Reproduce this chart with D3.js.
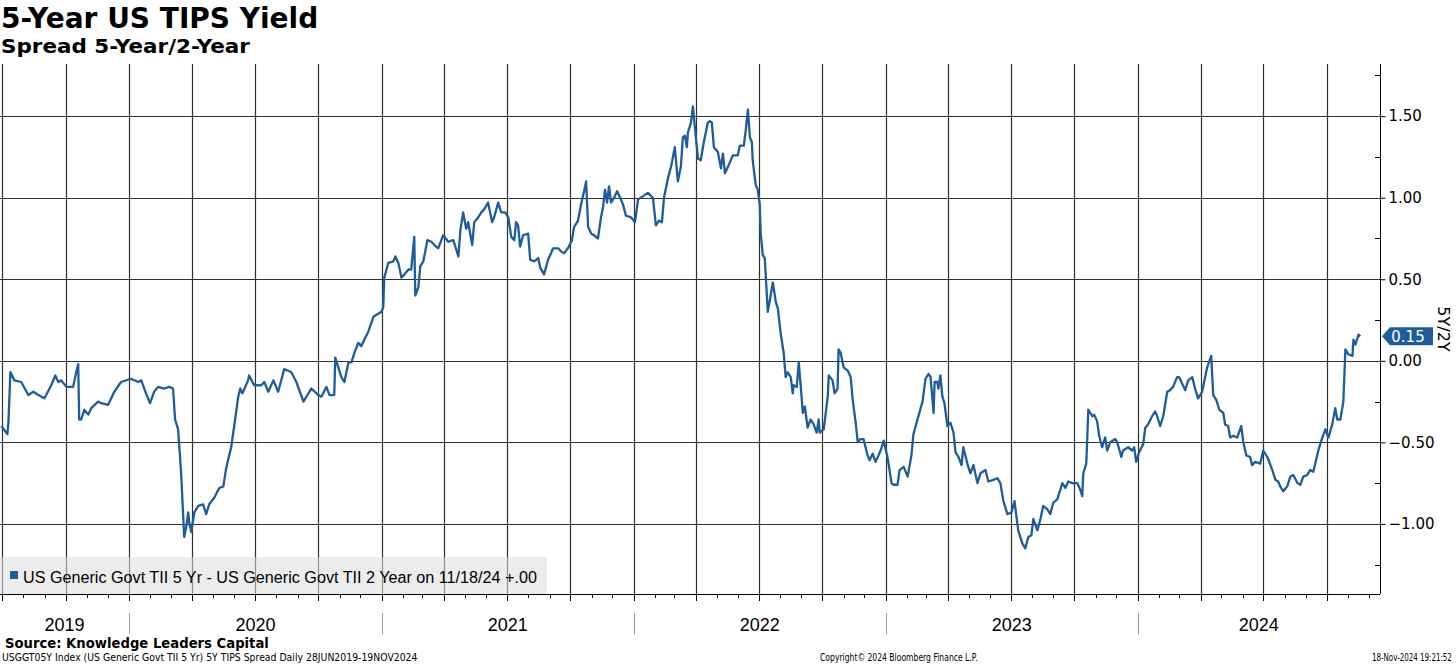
<!DOCTYPE html>
<html><head><meta charset="utf-8">
<script src="https://cdn.jsdelivr.net/npm/d3@7/dist/d3.min.js"></script>
<style>
body{margin:0;background:#fff}
svg{display:block}
</style>
</head><body>
<svg id="chart" width="1456" height="666"></svg>
<script>
// ---------- DATA ----------
const titleText = "5-Year US TIPS Yield";
const subtitleText = "Spread 5-Year/2-Year";
const legendText = "US Generic Govt TII 5 Yr - US Generic Govt TII 2 Year on 11/18/24 +.00";
const axisTitle = "5Y/2Y";
const lastValueLabel = "0.15";
const sourceText = "Source: Knowledge Leaders Capital";
const footLeft = "USGGT05Y Index (US Generic Govt TII 5 Yr) 5Y TIPS Spread  Daily 28JUN2019-19NOV2024";
const footMid = "Copyright\u00A9 2024 Bloomberg Finance L.P.";
const footRight = "18-Nov-2024 19:21:52";

const yTicks = [-1.0, -0.5, 0.0, 0.5, 1.0, 1.5];
const yMinorTicks = [-1.25, -0.75, -0.25, 0.25, 0.75, 1.25, 1.75];
const yearLabels = ["2019", "2020", "2021", "2022", "2023", "2024"];

// dates as decimal years
const dates = [
2019.493,2019.517,2019.521,2019.529,2019.545,2019.572,2019.600,2019.620,2019.640,2019.663,
2019.671,2019.691,2019.707,2019.719,2019.731,2019.751,2019.778,2019.790,2019.798,2019.802,
2019.810,2019.822,2019.838,2019.850,2019.877,2019.889,2019.917,2019.941,2019.968,2020.008,
2020.036,2020.048,2020.067,2020.083,2020.099,2020.115,2020.139,2020.159,2020.174,2020.182,
2020.194,2020.206,2020.218,2020.226,2020.234,2020.238,2020.246,2020.258,2020.274,2020.293,
2020.305,2020.317,2020.337,2020.357,2020.373,2020.384,2020.404,2020.416,2020.432,2020.440,
2020.448,2020.471,2020.475,2020.495,2020.523,2020.535,2020.551,2020.571,2020.590,2020.614,
2020.642,2020.662,2020.690,2020.721,2020.749,2020.761,2020.781,2020.793,2020.812,2020.816,
2020.828,2020.840,2020.852,2020.868,2020.880,2020.892,2020.907,2020.919,2020.947,2020.967,
2020.987,2020.999,2021.006,2021.010,2021.026,2021.046,2021.054,2021.066,2021.078,2021.090,
2021.106,2021.117,2021.129,2021.133,2021.145,2021.153,2021.165,2021.181,2021.197,2021.209,
2021.224,2021.244,2021.264,2021.284,2021.304,2021.312,2021.323,2021.335,2021.343,2021.359,
2021.367,2021.383,2021.395,2021.407,2021.422,2021.438,2021.446,2021.462,2021.474,2021.490,
2021.502,2021.514,2021.526,2021.533,2021.541,2021.549,2021.561,2021.581,2021.589,2021.605,
2021.621,2021.629,2021.644,2021.660,2021.672,2021.680,2021.700,2021.712,2021.724,2021.739,
2021.755,2021.763,2021.779,2021.791,2021.803,2021.811,2021.819,2021.831,2021.842,2021.858,
2021.870,2021.878,2021.886,2021.894,2021.902,2021.910,2021.922,2021.934,2021.949,2021.957,
2021.969,2021.989,2022.005,2022.017,2022.037,2022.056,2022.076,2022.088,2022.100,2022.112,
2022.120,2022.136,2022.148,2022.163,2022.171,2022.175,2022.187,2022.195,2022.203,2022.211,
2022.215,2022.227,2022.235,2022.239,2022.255,2022.266,2022.278,2022.294,2022.302,2022.310,
2022.318,2022.334,2022.346,2022.354,2022.362,2022.377,2022.393,2022.405,2022.413,2022.421,
2022.437,2022.445,2022.453,2022.461,2022.469,2022.472,2022.484,2022.492,2022.500,2022.504,
2022.512,2022.520,2022.532,2022.540,2022.552,2022.564,2022.572,2022.583,2022.595,2022.603,
2022.611,2022.623,2022.631,2022.635,2022.647,2022.655,2022.663,2022.671,2022.679,2022.690,
2022.702,2022.714,2022.726,2022.734,2022.738,2022.754,2022.770,2022.774,2022.789,2022.797,
2022.809,2022.813,2022.821,2022.833,2022.849,2022.861,2022.869,2022.881,2022.889,2022.900,
2022.912,2022.928,2022.936,2022.948,2022.960,2022.980,2022.992,2023.007,2023.023,2023.031,
2023.047,2023.055,2023.071,2023.087,2023.102,2023.110,2023.126,2023.146,2023.158,2023.170,
2023.178,2023.190,2023.194,2023.205,2023.209,2023.217,2023.225,2023.233,2023.245,2023.257,
2023.269,2023.277,2023.289,2023.301,2023.308,2023.324,2023.336,2023.348,2023.364,2023.376,
2023.396,2023.407,2023.427,2023.443,2023.455,2023.467,2023.483,2023.499,2023.511,2023.526,
2023.542,2023.554,2023.566,2023.578,2023.586,2023.602,2023.614,2023.625,2023.641,2023.653,
2023.665,2023.681,2023.701,2023.713,2023.724,2023.740,2023.760,2023.772,2023.780,2023.784,
2023.796,2023.804,2023.820,2023.827,2023.839,2023.847,2023.859,2023.871,2023.879,2023.891,
2023.911,2023.919,2023.935,2023.942,2023.962,2023.978,2023.986,2023.994,2024.006,2024.022,
2024.030,2024.041,2024.057,2024.069,2024.077,2024.089,2024.101,2024.117,2024.128,2024.140,
2024.156,2024.164,2024.176,2024.188,2024.200,2024.216,2024.227,2024.239,2024.255,2024.263,
2024.275,2024.291,2024.299,2024.311,2024.323,2024.339,2024.346,2024.358,2024.366,2024.378,
2024.394,2024.410,2024.418,2024.430,2024.445,2024.453,2024.465,2024.485,2024.497,2024.513,
2024.533,2024.545,2024.556,2024.564,2024.576,2024.592,2024.604,2024.616,2024.632,2024.644,
2024.655,2024.671,2024.683,2024.695,2024.703,2024.715,2024.731,2024.743,2024.755,2024.770,
2024.782,2024.790,2024.802,2024.814,2024.822,2024.834,2024.850,2024.854,2024.862,2024.874,
2024.881
];

const spread = [
-0.40,-0.45,-0.38,-0.07,-0.12,-0.13,-0.21,-0.19,-0.21,-0.23,
-0.21,-0.15,-0.09,-0.13,-0.12,-0.16,-0.16,-0.07,-0.02,-0.36,
-0.36,-0.30,-0.33,-0.29,-0.25,-0.26,-0.27,-0.19,-0.13,-0.11,
-0.13,-0.12,-0.20,-0.26,-0.19,-0.16,-0.17,-0.16,-0.17,-0.36,
-0.42,-0.69,-1.08,-1.02,-0.93,-0.99,-1.05,-0.93,-0.89,-0.88,
-0.94,-0.88,-0.84,-0.78,-0.77,-0.66,-0.53,-0.40,-0.22,-0.17,
-0.20,-0.12,-0.09,-0.15,-0.15,-0.13,-0.19,-0.12,-0.19,-0.05,
-0.07,-0.13,-0.25,-0.17,-0.21,-0.22,-0.16,-0.21,-0.21,0.02,
-0.04,-0.10,-0.13,-0.01,-0.01,0.05,0.11,0.09,0.18,0.27,
0.29,0.30,0.33,0.51,0.60,0.61,0.64,0.60,0.51,0.53,
0.56,0.56,0.76,0.40,0.45,0.58,0.61,0.74,0.73,0.71,
0.69,0.77,0.73,0.74,0.64,0.80,0.91,0.81,0.85,0.71,
0.85,0.88,0.91,0.93,0.97,0.85,0.88,0.97,0.91,0.91,
0.88,0.76,0.74,0.85,0.83,0.70,0.77,0.78,0.62,0.61,
0.63,0.57,0.53,0.62,0.66,0.69,0.69,0.67,0.66,0.69,
0.74,0.82,0.86,0.96,1.04,1.10,0.82,0.78,0.77,0.75,
0.88,0.94,1.05,0.97,1.07,0.97,1.00,1.04,0.99,0.96,
0.89,0.88,0.85,0.99,1.01,1.03,1.00,0.83,0.86,0.85,
1.00,1.12,1.19,1.31,1.17,1.10,1.19,1.37,1.38,1.31,
1.40,1.46,1.56,1.49,1.24,1.23,1.34,1.46,1.47,1.46,
1.31,1.28,1.18,1.27,1.15,1.20,1.26,1.26,1.26,1.32,
1.32,1.42,1.54,1.37,1.34,1.23,1.08,1.05,0.96,0.78,
0.65,0.63,0.30,0.37,0.48,0.36,0.32,0.17,0.05,-0.10,
-0.07,-0.10,-0.20,-0.15,-0.16,-0.01,-0.16,-0.32,-0.28,-0.41,
-0.36,-0.39,-0.44,-0.36,-0.44,-0.42,-0.22,-0.09,-0.12,-0.20,
-0.17,0.07,0.05,-0.04,-0.06,-0.10,-0.24,-0.38,-0.50,-0.48,
-0.48,-0.58,-0.61,-0.57,-0.62,-0.55,-0.49,-0.59,-0.75,-0.76,
-0.76,-0.67,-0.65,-0.71,-0.58,-0.45,-0.36,-0.25,-0.11,-0.08,
-0.10,-0.32,-0.13,-0.13,-0.17,-0.09,-0.22,-0.26,-0.40,-0.38,
-0.44,-0.56,-0.59,-0.64,-0.53,-0.63,-0.69,-0.64,-0.75,-0.69,
-0.67,-0.74,-0.73,-0.72,-0.75,-0.86,-0.94,-0.93,-0.86,-1.04,
-1.12,-1.15,-1.08,-1.07,-0.97,-1.04,-0.97,-0.89,-0.91,-0.94,
-0.87,-0.85,-0.75,-0.78,-0.74,-0.75,-0.75,-0.79,-0.83,-0.69,
-0.63,-0.30,-0.34,-0.33,-0.37,-0.46,-0.53,-0.47,-0.55,-0.50,
-0.48,-0.50,-0.59,-0.55,-0.53,-0.55,-0.53,-0.62,-0.56,-0.51,
-0.41,-0.39,-0.34,-0.31,-0.34,-0.40,-0.34,-0.19,-0.18,-0.16,
-0.10,-0.10,-0.14,-0.18,-0.12,-0.10,-0.17,-0.23,-0.19,-0.13,
-0.04,0.03,-0.21,-0.24,-0.30,-0.32,-0.39,-0.40,-0.47,-0.46,
-0.47,-0.40,-0.50,-0.58,-0.59,-0.64,-0.62,-0.63,-0.55,-0.59,
-0.67,-0.73,-0.74,-0.77,-0.80,-0.77,-0.71,-0.70,-0.75,-0.76,
-0.71,-0.70,-0.67,-0.68,-0.63,-0.55,-0.47,-0.42,-0.47,-0.39,
-0.29,-0.36,-0.36,-0.25,0.07,0.04,0.03,0.13,0.10,0.16,
0.15
];

// ---------- HELPERS ----------
function decToDate(v){
  const yr = Math.floor(v);
  const s = new Date(yr,0,1), e = new Date(yr+1,0,1);
  return new Date(+s + (v-yr)*(e-s));
}
const series = dates.map((d,i)=>({date:decToDate(d), value:spread[i]}));

// text squeezed horizontally to a target width via a transform
function fitText(parent, str, x0, yb, width, opts){
  const g = parent.append("g");
  const t = g.append("text").attr("x",0).attr("y",0).text(str)
    .attr("font-family",opts.family).attr("font-size",opts.size)
    .attr("font-weight",opts.weight||"normal").attr("fill","#000");
  const w = t.node().getComputedTextLength();
  const k = width / w;
  const left = opts.anchor === "end" ? x0 - width : x0;
  g.attr("transform",`translate(${left},${yb}) scale(${k},1)`);
  return g;
}

// ---------- LAYOUT ----------
const svg = d3.select("#chart");
const plotL = 0, plotR = 1380, plotT = 64, plotB = 594;
const x = d3.scaleTime().domain([new Date(2019,5,28), new Date(2024,11,17)]).range([plotL, plotR]);
const y = d3.scaleLinear().domain([-1.43, 1.82]).range([plotB, plotT]);
const gridColor = "#303030";
const lineColor = "#1f5c9c";

// title
svg.append("text").attr("x",1).attr("y",28).text(titleText)
  .attr("font-family","'DejaVu Sans',Verdana,sans-serif").attr("font-weight","bold").attr("font-size",28).attr("fill","#000");
fitText(svg, subtitleText, 1, 53, 249, {family:"'DejaVu Sans',Verdana,sans-serif", size:19, weight:"bold"});

// vertical gridlines (quarters)
const quarters = d3.timeMonth.every(3).range(x.domain()[0], x.domain()[1]);
svg.append("g").selectAll("line").data(quarters).join("line")
  .attr("x1",d=>Math.round(x(d))+0.5).attr("x2",d=>Math.round(x(d))+0.5)
  .attr("y1",plotT).attr("y2",plotB)
  .attr("stroke",gridColor).attr("stroke-width",1.2);

// horizontal gridlines
svg.append("g").selectAll("line").data(yTicks).join("line")
  .attr("x1",plotL).attr("x2",plotR)
  .attr("y1",d=>Math.round(y(d))+0.5).attr("y2",d=>Math.round(y(d))+0.5)
  .attr("stroke",gridColor).attr("stroke-width",1.2);

// legend box (semi-transparent over grid)
const legendG = svg.append("g");
legendG.append("rect").attr("x",0).attr("y",557).attr("width",547).attr("height",plotB-557)
  .attr("fill","#dcdcdc").attr("fill-opacity",0.55);
legendG.append("rect").attr("x",10).attr("y",571).attr("width",8).attr("height",8).attr("fill",lineColor);
fitText(legendG, legendText, 23, 583, 514, {family:"'Liberation Sans',Arial,sans-serif", size:16});

// line
const line = d3.line().x(d=>x(d.date)).y(d=>y(d.value)).curve(d3.curveLinear);
svg.append("path").datum(series).attr("d",line)
  .attr("fill","none").attr("stroke",lineColor).attr("stroke-width",2.3).attr("stroke-linejoin","round");

// right axis
const yAxis = d3.axisRight(y).tickValues(yTicks).tickFormat(d3.format(".2f")).tickSize(5).tickPadding(3);
const ya = svg.append("g").attr("transform",`translate(${plotR+0.5},0)`).call(yAxis);
ya.select(".domain").attr("d",`M0,${plotT}V${plotB}`).attr("stroke","#000");
ya.selectAll(".tick line").attr("stroke","#000");
ya.selectAll(".tick text").attr("font-family","'DejaVu Sans',Verdana,sans-serif").attr("font-size",15).attr("fill","#000");
svg.append("g").selectAll("line").data(yMinorTicks).join("line")
  .attr("x1",plotR-5).attr("x2",plotR)
  .attr("y1",d=>Math.round(y(d))+0.5).attr("y2",d=>Math.round(y(d))+0.5)
  .attr("stroke","#000");

// axis title rotated
svg.append("text").attr("transform",`translate(1438,329) rotate(90)`).attr("text-anchor","middle")
  .text(axisTitle).attr("font-family","'DejaVu Sans',Verdana,sans-serif").attr("font-size",16).attr("fill","#000");

// last value tag
const lastY = y(series[series.length-1].value);
svg.append("path").attr("d",`M${plotR+2},${lastY}L${plotR+10},${lastY-9}H1433V${lastY+9}H${plotR+10}Z`)
  .attr("fill","#1f5c9c");
svg.append("text").attr("x",1408).attr("y",lastY+5.5).attr("text-anchor","middle").text(lastValueLabel)
  .attr("font-family","'DejaVu Sans',Verdana,sans-serif").attr("font-size",15).attr("fill","#fff");

// bottom axis
svg.append("line").attr("x1",plotL).attr("x2",plotR).attr("y1",plotB+0.5).attr("y2",plotB+0.5).attr("stroke","#000");
const months = d3.timeMonth.range(x.domain()[0], x.domain()[1]);
svg.append("g").selectAll("line").data(months).join("line")
  .attr("x1",d=>Math.round(x(d))+0.5).attr("x2",d=>Math.round(x(d))+0.5)
  .attr("y1",plotB).attr("y2",d=>plotB + (d.getMonth()%3===0?7:4))
  .attr("stroke","#000");

// year separators and labels
const yearStarts = d3.timeYear.range(x.domain()[0], x.domain()[1]);
svg.append("g").selectAll("line").data(yearStarts).join("line")
  .attr("x1",d=>Math.round(x(d))+0.5).attr("x2",d=>Math.round(x(d))+0.5)
  .attr("y1",613).attr("y2",634).attr("stroke","#9a9a9a");
const bounds = [x.domain()[0], ...yearStarts, x.domain()[1]];
svg.append("g").selectAll("text").data(yearLabels).join("text")
  .attr("x",(d,i)=>(x(bounds[i])+x(bounds[i+1]))/2)
  .attr("y",631).attr("text-anchor","middle").text(d=>d)
  .attr("font-family","'Liberation Sans',Arial,sans-serif").attr("font-size",18).attr("fill","#000");

// footer
fitText(svg, sourceText, 5, 648, 264, {family:"'DejaVu Sans',Verdana,sans-serif", size:14.5, weight:"bold"});
fitText(svg, footLeft, 2, 661, 416, {family:"'DejaVu Sans',Verdana,sans-serif", size:10});
fitText(svg, footMid, 820, 661, 158, {family:"'DejaVu Sans',Verdana,sans-serif", size:10});
fitText(svg, footRight, 1452, 661, 80, {family:"'DejaVu Sans',Verdana,sans-serif", size:10, anchor:"end"});
</script>
</body></html>
